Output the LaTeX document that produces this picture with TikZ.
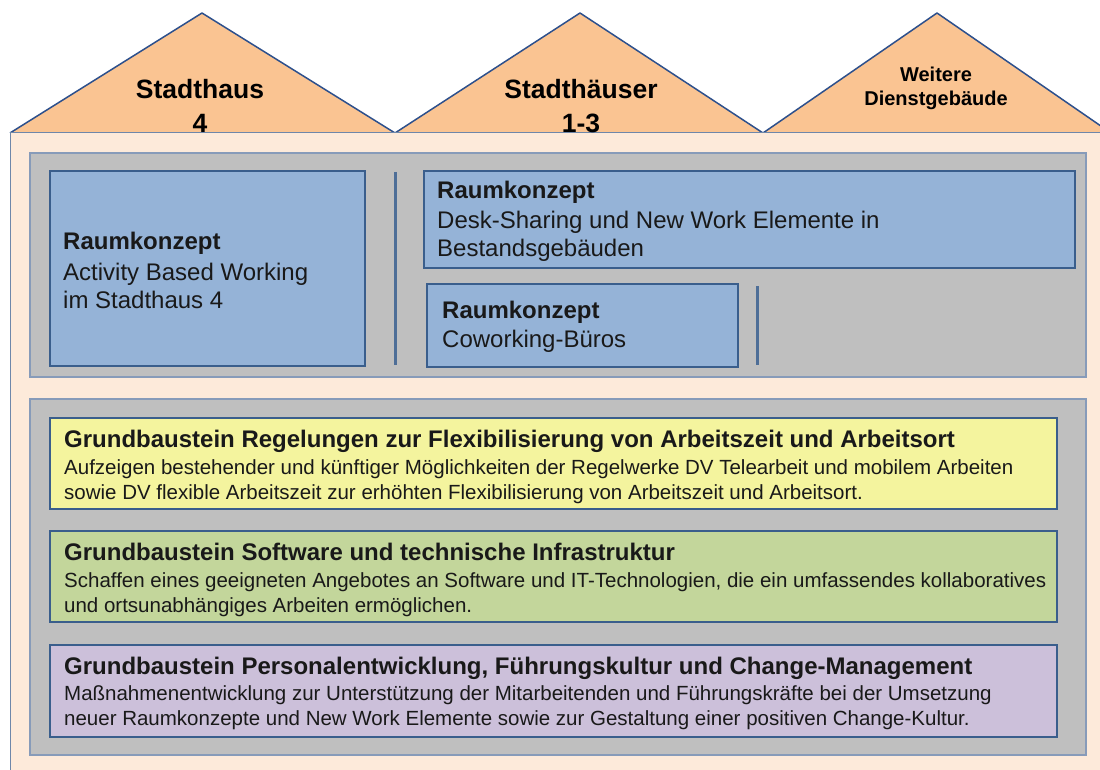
\documentclass[tikz,border=0pt]{standalone}
\usepackage{fontspec}
\setmainfont{Liberation Sans}
\definecolor{roofc}{RGB}{250,196,146}
\definecolor{bodyc}{RGB}{253,234,218}
\definecolor{panelc}{RGB}{191,191,191}
\definecolor{panelb}{RGB}{135,155,185}
\definecolor{bluec}{RGB}{149,179,215}
\definecolor{yelc}{RGB}{244,244,158}
\definecolor{grnc}{RGB}{195,214,155}
\definecolor{purc}{RGB}{204,192,218}
\definecolor{edgec}{RGB}{58,94,140}
\definecolor{roofb}{RGB}{45,80,140}
\definecolor{bodyb}{RGB}{110,135,170}
\tikzset{
  roof/.style={fill=roofc, draw=roofb, line width=1.5pt, line join=round},
  panel/.style={fill=panelc, draw=panelb, line width=1.5pt},
  concept/.style={draw=edgec, line width=2pt},
  sepline/.style={draw=edgec!90, line width=3pt},
  rooftxt/.style={font=\bfseries\fontsize{26.5}{34}\selectfont, align=center, inner sep=0pt},
  ctxt/.style={font=\fontsize{24}{28}\selectfont, align=left, inner sep=0pt, anchor=west, text=black!90},
  gtxt/.style={font=\fontsize{20.5}{25}\selectfont, align=left, inner sep=0pt, anchor=west, text=black!90},
}
\newcommand{\ctitle}[1]{{\bfseries\fontsize{24}{28}\selectfont #1}}
\newcommand{\gtitle}[1]{{\bfseries\fontsize{24}{28}\selectfont #1}}
\begin{document}
\begin{tikzpicture}[x=1pt,y=-1pt]
\useasboundingbox (0,0) rectangle (1100,770);
\clip (0,0) rectangle (1100,770);
% roofs
\draw[roof] (10,133) -- (202,13) -- (395,133);
\draw[roof] (395,133) -- (580,13) -- (763,133);
\draw[roof] (763,133) -- (937,13) -- (1111,133);
% body
\draw[fill=bodyc, draw=bodyb, line width=1pt] (10,133) rectangle (1106,776);
% roof texts
\node[rooftxt] (r1) at (200,106) {Stadthaus\\4};
\node[rooftxt] (r2) at (581,106) {Stadthäuser\\1-3};
\node[rooftxt, font=\bfseries\fontsize{20}{24}\selectfont] (r3) at (936,88) {Weitere\\Dienstgebäude};
% upper panel
\draw[panel] (30,153) rectangle (1086,377);
\draw[concept, fill=bluec] (50,171) rectangle (365,366);
\draw[concept, fill=bluec] (424,171) rectangle (1075,268);
\draw[concept, fill=bluec] (427,284) rectangle (738,367);
\coordinate (s1a) at (395,172);
\coordinate (s1b) at (395,365);
\coordinate (s2a) at (757,286);
\coordinate (s2b) at (757,365);
\draw[sepline] (s1a) -- (s1b);
\draw[sepline] (s2a) -- (s2b);
\node[ctxt] (t1) at (63,270) {\ctitle{Raumkonzept}\\[3pt]Activity Based Working\\im Stadthaus 4};
\node[ctxt] (t2) at (437,221) {\ctitle{Raumkonzept}\\[2pt]Desk-Sharing und New Work Elemente in\\Bestandsgebäuden};
\node[ctxt] (t3) at (442,327) {\ctitle{Raumkonzept}\\[1pt]Coworking-Büros};
% lower panel
\draw[panel] (30,399) rectangle (1086,755);
\draw[concept, fill=yelc] (50,418) rectangle (1057,509);
\draw[concept, fill=grnc] (50,531) rectangle (1057,622);
\draw[concept, fill=purc] (50,645) rectangle (1057,737);
\node[gtxt] (g1) at (64,467) {\gtitle{Grundbaustein Regelungen zur Flexibilisierung von Arbeitszeit und Arbeitsort}\\[2pt]Aufzeigen bestehender und künftiger Möglichkeiten der Regelwerke DV Telearbeit und mobilem Arbeiten\\sowie DV flexible Arbeitszeit zur erhöhten Flexibilisierung von Arbeitszeit und Arbeitsort.};
\node[gtxt] (g2) at (64,580) {\gtitle{Grundbaustein Software und technische Infrastruktur}\\[2pt]Schaffen eines geeigneten Angebotes an Software und IT-Technologien, die ein umfassendes kollaboratives\\und ortsunabhängiges Arbeiten ermöglichen.};
\node[gtxt] (g3) at (64,693) {\gtitle{Grundbaustein Personalentwicklung, Führungskultur und Change-Management}\\[1pt]Maßnahmenentwicklung zur Unterstützung der Mitarbeitenden und Führungskräfte bei der Umsetzung\\neuer Raumkonzepte und New Work Elemente sowie zur Gestaltung einer positiven Change-Kultur.};
\end{tikzpicture}
\end{document}
